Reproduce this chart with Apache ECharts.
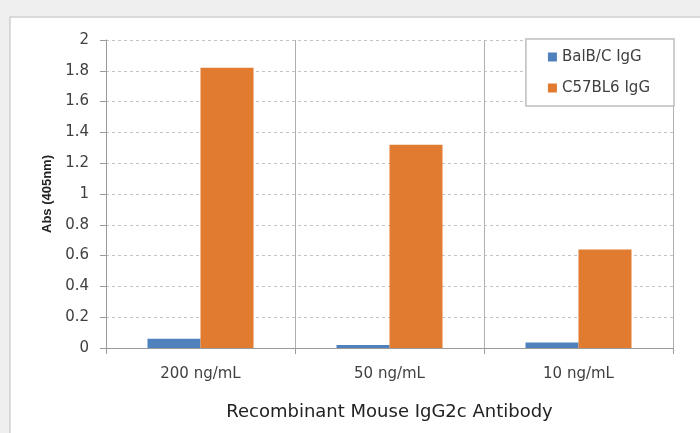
<!DOCTYPE html>
<html><head><meta charset="utf-8">
<script src="https://cdn.jsdelivr.net/npm/echarts@6/dist/echarts.min.js"></script>
<style>html,body{margin:0;padding:0;background:#efefef}#c{width:700px;height:433px}</style>
</head><body><div id="c"></div>
<script>
const categories = ['200 ng/mL', '50 ng/mL', '10 ng/mL'];
const balbc = [0.06, 0.02, 0.035];
const c57 = [1.82, 1.32, 0.64];
const yTicks = [0, 0.2, 0.4, 0.6, 0.8, 1, 1.2, 1.4, 1.6, 1.8, 2];

const chart = echarts.init(document.getElementById('c'));
chart.setOption({
  backgroundColor: '#efefef',
  animation: false,
  graphic: [{
    type: 'rect', z: -10,
    shape: {x: 10, y: 17, width: 700, height: 430},
    style: {fill: '#ffffff', stroke: '#cfcfcf', lineWidth: 1.5}
  }],
  grid: {left: 106, right: 27, top: 40, bottom: 85, containLabel: false},
  legend: {
    right: 26, top: 39, orient: 'vertical', itemWidth: 9, itemHeight: 9,
    padding: [10, 24, 10, 22], itemGap: 15,
    backgroundColor: '#fff', borderColor: '#bdbdbd', borderWidth: 1.5,
    textStyle: {fontFamily: 'DejaVu Sans', fontSize: 15, lineHeight: 16, color: '#404040'},
    icon: 'rect',
    data: ['BalB/C IgG', 'C57BL6 IgG']
  },
  xAxis: {
    type: 'category', data: categories,
    name: 'Recombinant Mouse IgG2c Antibody', nameLocation: 'middle', nameGap: 55,
    nameTextStyle: {fontFamily: 'DejaVu Sans', fontSize: 18, color: '#222'},
    axisLine: {lineStyle: {color: '#9a9a9a', width: 1}},
    axisTick: {show: true, length: 6, lineStyle: {color: '#9a9a9a'}},
    axisLabel: {fontFamily: 'DejaVu Sans', fontSize: 15, color: '#404040', margin: 19},
    splitLine: {show: true, lineStyle: {color: '#b0b0b0', width: 1}}
  },
  yAxis: {
    type: 'value', min: 0, max: 2, interval: 0.2,
    name: 'Abs (405nm)', nameLocation: 'middle', nameGap: 52, nameRotate: 90,
    nameTextStyle: {fontFamily: 'Liberation Sans', fontSize: 13, fontWeight: 'bold', color: '#222'},
    axisLine: {show: true, lineStyle: {color: '#9a9a9a', width: 1}},
    axisTick: {show: true, length: 6, lineStyle: {color: '#9a9a9a'}},
    axisLabel: {fontFamily: 'DejaVu Sans', fontSize: 15, color: '#404040', margin: 17,
      formatter: v => { const t = yTicks.find(x => Math.abs(x - v) < 1e-9); return t === undefined ? '' : String(t); }},
    splitLine: {show: true, lineStyle: {color: '#c4c4c4', type: [3, 3], width: 1}}
  },
  series: [
    {name: 'BalB/C IgG', type: 'bar', data: balbc, barWidth: 53, barGap: '0%',
     itemStyle: {color: '#4f81bd'}},
    {name: 'C57BL6 IgG', type: 'bar', data: c57, barWidth: 53, barGap: '0%',
     itemStyle: {color: '#e07b2f'}}
  ]
});
</script></body></html>
